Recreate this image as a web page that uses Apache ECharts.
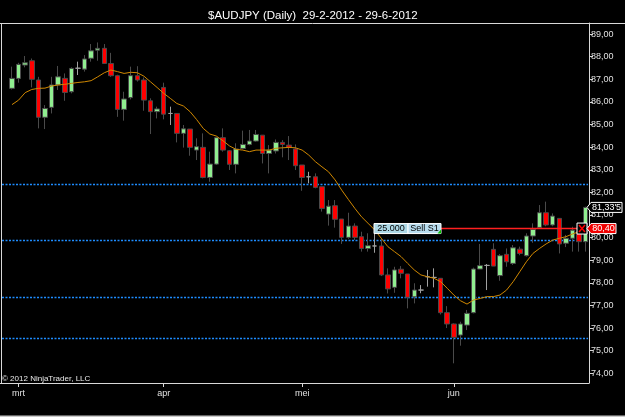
<!DOCTYPE html>
<html>
<head>
<meta charset="utf-8">
<script src="https://cdn.jsdelivr.net/npm/echarts@6/dist/echarts.min.js"></script>
<style>
html, body { margin: 0; padding: 0; background: #000; }
#chart { width: 625px; height: 417px; }
</style>
</head>
<body>
<div id="chart"></div>
<script>
// trading days per month (29-2-2012 .. 29-6-2012)
const febDays = [29];
const marDays = [1, 2, 5, 6, 7, 8, 9, 12, 13, 14, 15, 16, 19, 20, 21, 22, 23, 26, 27, 28, 29, 30];
const aprDays = [2, 3, 4, 5, 6, 9, 10, 11, 12, 13, 16, 17, 18, 19, 20, 23, 24, 25, 26, 27, 30];
const meiDays = [1, 2, 3, 4, 7, 8, 9, 10, 11, 14, 15, 16, 17, 18, 21, 22, 23, 24, 25, 28, 29, 30, 31];
const junDays = [1, 4, 5, 6, 7, 8, 11, 12, 13, 14, 15, 18, 19, 20, 21, 22, 25, 26, 27, 28, 29];
const monthNames = ['feb', 'mrt', 'apr', 'mei', 'jun'];

const opens = [
  86.60, 87.04, 87.63, 87.82, 86.97, 85.32, 85.76, 86.75, 87.04, 86.45,
  87.49, 87.45, 87.93, 88.29, 88.37, 87.70, 87.16, 85.67, 86.19, 87.16,
  86.97, 86.05, 85.57, 86.64, 85.49, 85.49, 84.61, 84.80, 83.87, 83.99,
  82.66, 83.25, 84.42, 83.84, 83.24, 83.94, 84.12, 84.27, 84.53, 83.72,
  83.83, 84.21, 84.09, 83.92, 83.21, 82.69, 82.69, 82.25, 81.04, 81.41,
  80.82, 80.01, 80.51, 80.04, 79.52, 79.63, 79.63, 78.35, 77.80, 78.60,
  78.39, 77.38, 77.68, 78.27, 78.24, 78.20, 76.68, 76.18, 75.69, 76.13,
  76.68, 78.61, 78.77, 79.48, 78.32, 79.26, 78.86, 79.49, 79.20, 80.07,
  80.45, 81.10, 80.56, 80.85, 79.75, 79.97, 80.26, 79.82
];
const closes = [
  87.04, 87.66, 87.73, 87.00, 85.32, 85.71, 86.75, 87.11, 86.42, 87.48,
  87.49, 87.90, 88.26, 88.37, 87.70, 87.16, 85.67, 86.13, 87.16, 86.97,
  86.08, 85.57, 85.69, 85.46, 85.49, 84.61, 84.81, 83.99, 84.02, 82.66,
  83.25, 84.42, 83.87, 83.24, 83.92, 84.12, 84.27, 84.56, 83.72, 83.87,
  84.21, 84.12, 83.99, 83.18, 82.66, 82.69, 82.22, 81.29, 81.39, 80.81,
  80.01, 80.51, 80.01, 79.52, 79.64, 79.63, 78.35, 77.73, 78.57, 78.42,
  77.36, 77.68, 77.68, 78.27, 78.24, 76.68, 76.18, 75.59, 76.18, 76.65,
  78.61, 78.76, 78.77, 78.74, 79.20, 78.93, 79.55, 79.30, 80.07, 80.36,
  81.10, 80.56, 80.95, 79.72, 79.97, 80.33, 79.82, 81.335
];
const lows = [
  86.55, 86.85, 87.53, 86.64, 84.83, 84.80, 85.49, 86.53, 86.05, 86.38,
  87.19, 87.34, 87.78, 87.82, 87.70, 87.11, 85.34, 85.17, 86.11, 86.90,
  85.61, 84.58, 85.27, 85.23, 84.98, 84.21, 83.98, 83.62, 83.43, 82.62,
  82.47, 83.21, 83.80, 82.99, 82.84, 83.90, 84.08, 84.24, 83.28, 82.84,
  83.72, 83.55, 83.43, 82.99, 82.07, 82.40, 82.18, 81.15, 80.53, 80.44,
  79.72, 79.95, 79.89, 79.38, 79.38, 79.33, 78.30, 77.53, 77.56, 78.20,
  76.87, 77.09, 77.54, 77.83, 77.80, 76.60, 76.00, 74.44, 75.22, 75.91,
  76.65, 78.61, 77.68, 78.74, 78.09, 78.71, 78.79, 79.22, 79.16, 79.77,
  80.45, 80.50, 80.50, 79.30, 79.58, 79.38, 79.38, 79.38
];
const highs = [
  87.56, 87.73, 88.03, 87.92, 87.11, 85.86, 87.11, 87.59, 87.26, 87.53,
  87.78, 88.07, 88.56, 88.63, 88.56, 88.17, 87.20, 86.45, 87.56, 87.58,
  87.08, 86.16, 85.79, 86.85, 85.79, 85.49, 84.98, 84.80, 84.39, 84.61,
  83.80, 84.46, 84.83, 83.87, 84.17, 84.73, 84.76, 84.76, 84.53, 84.09,
  84.34, 84.31, 84.49, 84.12, 83.21, 82.91, 82.84, 82.25, 81.66, 81.66,
  80.82, 81.10, 80.63, 80.26, 80.19, 80.19, 79.97, 78.64, 78.71, 78.74,
  78.39, 77.98, 77.90, 78.57, 78.64, 78.20, 76.97, 76.21, 76.28, 76.80,
  78.67, 79.72, 78.83, 79.75, 79.27, 79.52, 79.67, 79.60, 80.19, 80.63,
  81.44, 81.59, 81.07, 80.85, 80.12, 80.48, 80.34, 81.37
];
// moving average as plotted
const maValues = [
  85.88, 86.08, 86.41, 86.55, 86.60, 86.61, 86.70, 86.75, 86.78, 86.82,
  86.86, 86.89, 86.94, 87.11, 87.29, 87.41, 87.34, 87.26, 87.31, 87.29,
  87.14, 86.89, 86.64, 86.38, 86.16, 85.93, 85.82, 85.57, 85.22, 84.83,
  84.58, 84.49, 84.28, 84.05, 83.90, 83.87, 83.80, 83.87, 83.87, 83.87,
  83.95, 83.97, 83.99, 83.97, 83.87, 83.65, 83.36, 83.13, 82.91, 82.55,
  82.10, 81.69, 81.29, 80.92, 80.63, 80.34, 79.97, 79.60, 79.38, 79.16,
  78.86, 78.57, 78.35, 78.27, 78.20, 78.05, 77.76, 77.46, 77.21, 77.06,
  77.24, 77.31, 77.39, 77.39, 77.46, 77.68, 78.05, 78.49, 78.93, 79.30,
  79.52, 79.72, 79.89, 79.97, 80.04, 80.16, 80.26, 80.35
];
const levelLines = [82.38, 79.88, 77.36, 75.57];
const orderPrice = 80.40;
const lastPrice = 81.335;
const yTicks = [74, 75, 76, 77, 78, 79, 80, 81, 82, 83, 84, 85, 86, 87, 88, 89];

const font = 'Liberation Sans, Arial, sans-serif';
const lineCol = '#d8d8d8';

// categories + first trading day of every month
const dates = [];
const monthStart = {};
[febDays, marDays, aprDays, meiDays, junDays].forEach((days, m) => {
    days.forEach((d, k) => {
        if (k === 0 && m > 0) monthStart[dates.length] = monthNames[m];
        dates.push(d + '-' + (m + 2) + '-2012');
    });
});
const candleData = opens.map((o, i) => [o, closes[i], lows[i], highs[i]]);
const isMonthStart = (idx) => monthStart[idx] !== undefined;

const chart = echarts.init(document.getElementById('chart'));
const option = {
    backgroundColor: '#000',
    animation: false,
    title: {
        text: '$AUDJPY (Daily)  29-2-2012 - 29-6-2012',
        left: 203,
        top: 5,
        textStyle: { color: '#fff', fontSize: 11.5, fontWeight: 'normal', fontFamily: font }
    },
    grid: { left: 8.7, right: 36, top: 23, bottom: 34 },
    xAxis: {
        type: 'category',
        data: dates,
        boundaryGap: true,
        axisLine: { show: true, lineStyle: { color: lineCol, width: 1 } },
        axisTick: { show: true, alignWithLabel: true, interval: isMonthStart, length: 4, lineStyle: { color: lineCol } },
        axisLabel: {
            interval: isMonthStart,
            formatter: (v, idx) => monthStart[idx] || '',
            color: '#e0e0e0', fontSize: 9, fontFamily: font, margin: 6
        },
        splitLine: { show: false }
    },
    yAxis: {
        type: 'value',
        position: 'right',
        min: 73.57,
        max: 89.49,
        axisLine: { show: true, lineStyle: { color: lineCol, width: 1 } },
        axisTick: { show: true, length: 4, customValues: yTicks, lineStyle: { color: lineCol } },
        axisLabel: {
            customValues: yTicks,
            formatter: (v) => v.toFixed(2).replace('.', ','),
            color: '#e0e0e0', fontSize: 9, fontFamily: font, margin: 2
        },
        splitLine: { show: false }
    },
    series: [
        {
            name: 'AUDJPY',
            type: 'candlestick',
            data: candleData,
            barWidth: 5,
            z: 3,
            itemStyle: {
                color: '#90ee90',
                color0: '#ff0000',
                borderColor: '#4a4a4a',
                borderColor0: '#4a4a4a',
                borderColorDoji: '#a0a0a0',
                borderWidth: 1
            }
        },
        {
            name: 'MA',
            type: 'line',
            data: maValues,
            symbol: 'none',
            z: 4,
            lineStyle: { color: '#d08800', width: 1 }
        }
    ]
};
chart.setOption(option);

const py = (v) => chart.convertToPixel({ yAxisIndex: 0 }, v);
const graphics = [];
// frame
graphics.push({ type: 'line', z: 5, shape: { x1: 0, y1: 23.5, x2: 625, y2: 23.5 }, style: { stroke: lineCol, lineWidth: 1 } });
graphics.push({ type: 'line', z: 5, shape: { x1: 1.5, y1: 23, x2: 1.5, y2: 383 }, style: { stroke: lineCol, lineWidth: 1 } });
graphics.push({ type: 'line', z: 5, shape: { x1: 0, y1: 383.5, x2: 589, y2: 383.5 }, style: { stroke: lineCol, lineWidth: 1 } });
graphics.push({ type: 'rect', z: 5, shape: { x: 0, y: 415.5, width: 625, height: 2 }, style: { fill: '#c8c8c8' } });
// horizontal level lines
levelLines.forEach((v) => {
    const y = Math.round(py(v)) + 0.5;
    graphics.push({ type: 'line', z: 1, shape: { x1: 2, y1: y, x2: 588, y2: y },
        style: { stroke: '#1e8cff', lineWidth: 1.5, lineDash: [2, 1.5] } });
});
// order line
const oy = py(orderPrice);
graphics.push({ type: 'line', z: 10, shape: { x1: 441, y1: oy, x2: 577, y2: oy }, style: { stroke: '#ff2020', lineWidth: 1.5 } });
graphics.push({ type: 'rect', z: 11, shape: { x: 374, y: oy - 5, width: 34, height: 10 }, style: { fill: '#add8e6', stroke: '#fff', lineWidth: 1 } });
graphics.push({ type: 'rect', z: 11, shape: { x: 408, y: oy - 5, width: 33, height: 10 }, style: { fill: '#b8dcee', stroke: '#fff', lineWidth: 1 } });
graphics.push({ type: 'text', z: 12, style: { text: '25.000', x: 391, y: oy, align: 'center', verticalAlign: 'middle', fill: '#000', font: '9px ' + font } });
graphics.push({ type: 'text', z: 12, style: { text: 'Sell S1', x: 424.5, y: oy, align: 'center', verticalAlign: 'middle', fill: '#000', font: '9px ' + font } });
graphics.push({ type: 'polygon', z: 12, shape: { points: [[441, oy + 1], [441, oy + 5], [437.5, oy + 5]] }, style: { fill: '#00c000' } });
// close marker
graphics.push({ type: 'rect', z: 11, shape: { x: 577, y: oy - 5.5, width: 10, height: 11 }, style: { fill: '#000', stroke: '#fff', lineWidth: 1 } });
graphics.push({ type: 'line', z: 12, shape: { x1: 579, y1: oy - 3.5, x2: 585, y2: oy + 3.5 }, style: { stroke: '#ff0000', lineWidth: 1.5 } });
graphics.push({ type: 'line', z: 12, shape: { x1: 585, y1: oy - 3.5, x2: 579, y2: oy + 3.5 }, style: { stroke: '#ff0000', lineWidth: 1.5 } });
// price markers on the axis
const priceTag = (v, w, fill, txt) => {
    const y = py(v);
    graphics.push({ type: 'polygon', z: 13,
        shape: { points: [[587, y], [591, y - 5], [591 + w, y - 5], [591 + w, y + 5], [591, y + 5]] },
        style: { fill: fill, stroke: '#fff', lineWidth: 1 } });
    graphics.push({ type: 'text', z: 14,
        style: { text: txt, x: 591 + w / 2, y: y, align: 'center', verticalAlign: 'middle', fill: '#fff', font: '9px ' + font } });
};
priceTag(lastPrice, 31, '#000', "81,33'5");
priceTag(orderPrice, 25, '#f00000', '80,40');
// copyright
graphics.push({ type: 'text', z: 12, style: { text: '\u00a9 2012 NinjaTrader, LLC', x: 2, y: 379, verticalAlign: 'middle', fill: '#e8e8e8', font: '8px ' + font } });

chart.setOption({ graphic: graphics });
</script>
</body>
</html>
